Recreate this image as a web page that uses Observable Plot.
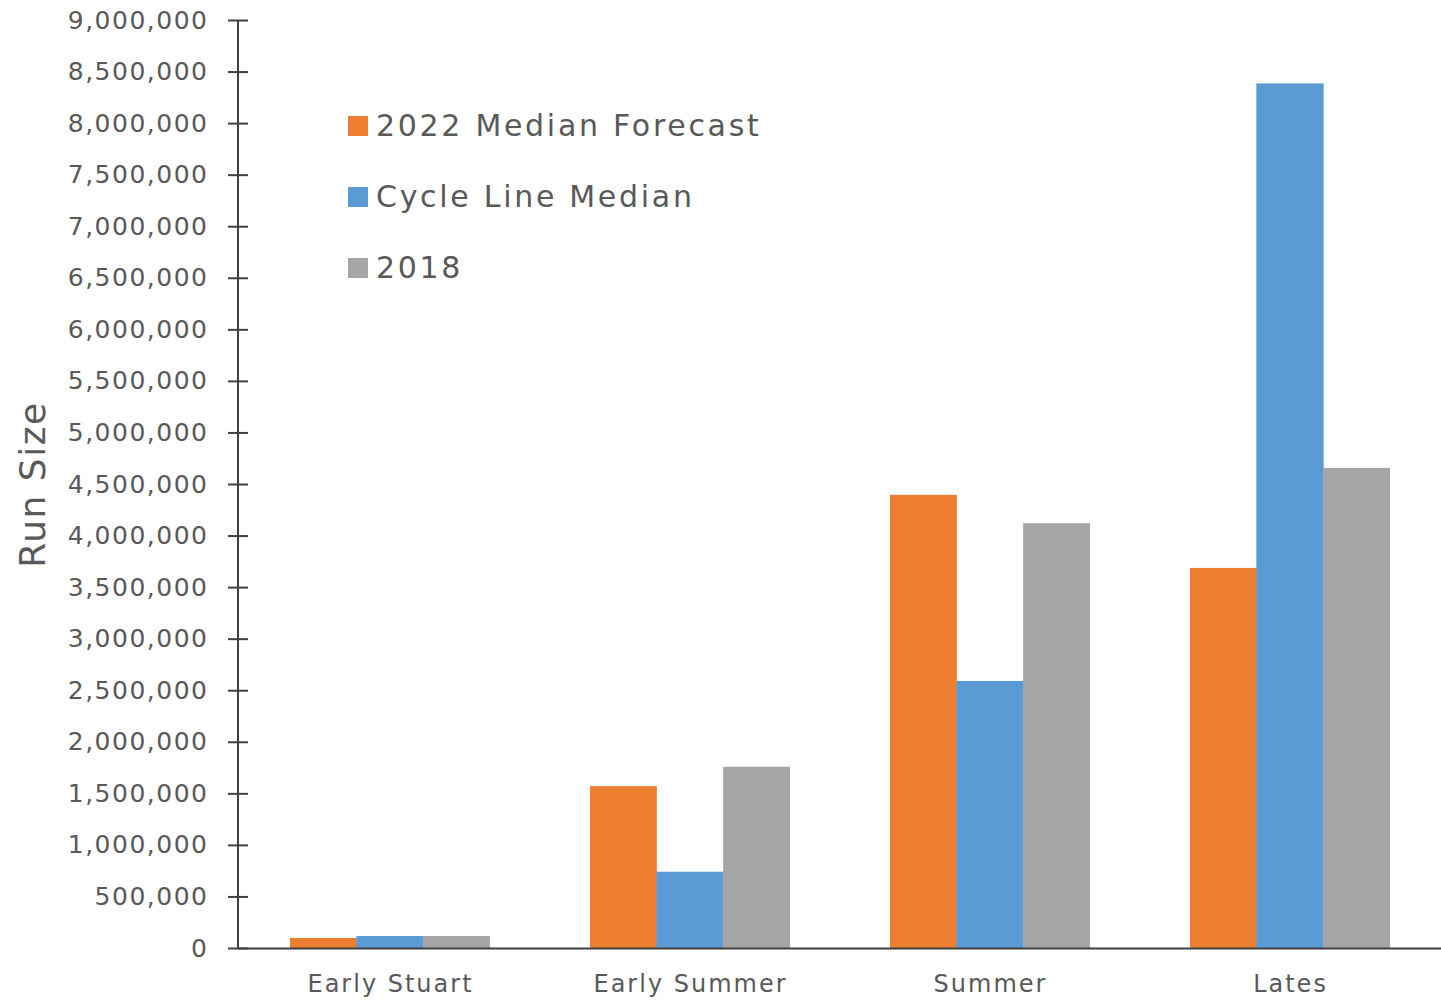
<!DOCTYPE html>
<html>
<head>
<meta charset="utf-8">
<script src="https://cdn.jsdelivr.net/npm/d3@7"></script>
<script src="https://cdn.jsdelivr.net/npm/@observablehq/plot@0.6"></script>
<style>
  html, body { margin: 0; padding: 0; background: #fff; }
  #wrap { position: relative; width: 1441px; height: 1001px; font-family: "DejaVu Sans", sans-serif; }
  #legend { position: absolute; left: 348px; top: 108px; color: #595959; font-size: 30px; letter-spacing: 2.7px; }
  .item { display: flex; align-items: center; height: 35px; margin-bottom: 36px; }
  .sw { width: 20px; height: 20px; margin-right: 8px; }
</style>
</head>
<body>
<div id="wrap"></div>
<script>
const categories = ["Early Stuart", "Early Summer", "Summer", "Lates"];
const series = ["2022 Median Forecast", "Cycle Line Median", "2018"];
const forecast2022 = [97000, 1570000, 4395000, 3686000];
const cycleLineMedian = [116000, 740000, 2590000, 8385000];
const run2018 = [116000, 1758000, 4120000, 4656000];
const colors = ["#ED7D31", "#5B9BD5", "#A5A5A5"];
const yTicks = [0, 500000, 1000000, 1500000, 2000000, 2500000, 3000000, 3500000, 4000000, 4500000, 5000000, 5500000, 6000000, 6500000, 7000000, 7500000, 8000000, 8500000, 9000000];
const yLabel = "Run Size";

const seriesValues = [forecast2022, cycleLineMedian, run2018];
const rows = [];
series.forEach((s, si) => categories.forEach((c, ci) => rows.push({category: c, series: s, value: seriesValues[si][ci]})));

const width = 1441, height = 1001;
const marginLeft = 238, marginRight = 0, marginTop = 20, marginBottom = 53;
const paddingInner = 1/3, paddingOuter = 1/6;
const step = (width - marginLeft - marginRight) / (categories.length - paddingInner + 2 * paddingOuter);
const bw = step * (1 - paddingInner);
const sub = bw / series.length;

const textColor = "#595959";
const axisColor = "#404040";

const barMarks = series.map((s, i) => Plot.barY(rows.filter(d => d.series === s), {
  x: "category", y: "value", fill: "series",
  insetLeft: sub * i - (i > 0 ? 0.5 : 0), insetRight: sub * (series.length - 1 - i) - (i < series.length - 1 ? 0.5 : 0)
}));

const chart = Plot.plot({
  width, height, marginLeft, marginRight, marginTop, marginBottom,
  style: {fontFamily: "DejaVu Sans, sans-serif", color: textColor, background: "#fff"},
  x: {domain: categories, paddingInner, paddingOuter, label: null},
  y: {domain: [0, 9000000], label: null},
  color: {domain: series, range: colors},
  marks: [
    ...barMarks,
    Plot.ruleY([0], {stroke: axisColor, strokeWidth: 2}),
    Plot.axisY({ticks: yTicks, tickFormat: d3.format(","), tickSize: 10, tickPadding: 20, stroke: axisColor, strokeWidth: 2, fill: textColor, fontSize: 25, label: null}),
    Plot.axisY({ticks: yTicks, tickFormat: () => "", tickSize: -10, stroke: axisColor, strokeWidth: 2, label: null}),
    Plot.axisX({tickSize: 0, tickPadding: 26, fill: textColor, fontSize: 24, label: null}),
    Plot.text([yLabel], {frameAnchor: "left", textAnchor: "middle", rotate: -90, dx: -205, fontSize: 36, fill: textColor, text: d => d})
  ]
});

const svg = d3.select(chart);
svg.selectAll("text").style("letter-spacing", "1.5px");
svg.selectAll("g[aria-label='x-axis tick label'] text").style("letter-spacing", "2px");
const ys = chart.scale("y");
const xs = chart.scale("x");
svg.append("line")
  .attr("x1", xs.range[0]).attr("x2", xs.range[0])
  .attr("y1", ys.apply(9000000)).attr("y2", ys.apply(0))
  .attr("stroke", axisColor).attr("stroke-width", 2);

const wrap = document.getElementById("wrap");
wrap.appendChild(chart);

const legend = document.createElement("div");
legend.id = "legend";
series.forEach((s, i) => {
  const item = document.createElement("div");
  item.className = "item";
  const sw = document.createElement("div");
  sw.className = "sw";
  sw.style.background = colors[i];
  const label = document.createElement("span");
  label.textContent = s;
  item.appendChild(sw);
  item.appendChild(label);
  legend.appendChild(item);
});
wrap.appendChild(legend);
</script>
</body>
</html>
